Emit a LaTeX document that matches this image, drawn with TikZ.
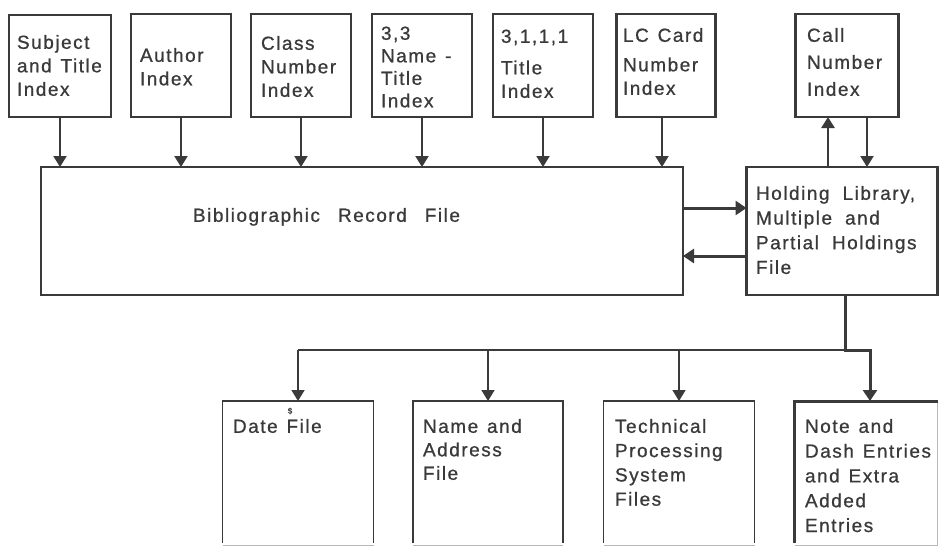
\documentclass[tikz,border=0pt]{standalone}
\usepackage{fontspec}
\setmainfont{Liberation Sans}[LetterSpace=8,WordSpace=1.3,FakeBold=0.8]
\usetikzlibrary{arrows.meta}
\definecolor{ink}{HTML}{3A3A3A}
\definecolor{faint}{HTML}{B8B8B8}
\newcommand\fstrut{\rule{0pt}{15pt}}
\newcommand\wsp{\hspace{13pt}}
\tikzset{
  box/.style={draw=ink, rectangle, inner sep=0pt, outer sep=0pt, line width=2.4pt, fill=none},
  thinbox/.style={draw=ink, line width=1.6pt},
  openbox/.style={rectangle, inner sep=0pt, outer sep=0pt, draw=none},
  lbl/.style={anchor=north west, inner sep=0pt, outer sep=0pt, align=left, text=ink,
     font=\fontsize{19}{23.5}\selectfont},
  lblb/.style={lbl, font=\fontsize{19}{24.5}\selectfont},
  tip/.style={-{Triangle[width=13pt,length=11pt,fill=ink]}},
  arr/.style={draw=ink, line width=2pt, tip},
  arrthin/.style={draw=ink, line width=1.6pt, tip},
  arrthick/.style={draw=ink, line width=3pt, -{Triangle[width=14pt,length=11pt,fill=ink]}},
  feed/.style={draw=ink, line width=1.6pt},
}
\begin{document}
\begin{tikzpicture}[x=1pt,y=-1pt]
\useasboundingbox (0,0) rectangle (943,547);
\fill[white] (0,0) rectangle (943,547);

% top index boxes
\node[box, line width=1.8pt, minimum width=102pt, minimum height=102pt] (subj) at (60,66) {};
\node[box, line width=2.8pt, minimum width=100pt, minimum height=103pt] (auth) at (181,65.5) {};
\node[box, line width=2.8pt, minimum width=100pt, minimum height=103pt] (cls) at (301,65.5) {};
\node[box, line width=2.8pt, minimum width=100pt, minimum height=103pt] (nt) at (422,65.5) {};
\node[box, line width=2.4pt, minimum width=100pt, minimum height=103pt] (ti) at (543,65.5) {};
\node[box, line width=2.4pt, minimum width=99pt, minimum height=103pt] (lc) at (666,65.5) {};
\node[box, line width=2.4pt, minimum width=103pt, minimum height=103pt] (call) at (847,65.5) {};

\node[lbl] (tsubj) at (17,33.8) {\fstrut Subject\\and Title\\Index};
\node[lbl] (tauth) at (140,46.8) {\fstrut Author\\Index};
\node[lbl] (tcls) at (261,34.8) {\fstrut Class\\Number\\Index};
\node[lbl, font=\fontsize{19}{22.5}\selectfont] (tnt) at (381,24.8) {\fstrut 3,3\\Name -\\Title\\Index};
\node[lbl] (tti) at (501,27.8) {\fstrut 3,1,1,1\\[8pt]Title\\Index};
\node[lbl] (tlc) at (623,26.8) {\fstrut LC Card\\[6pt]Number\\Index};
\node[lbl, font=\fontsize{19}{27}\selectfont] (tcall) at (807,26.8) {\fstrut Call\\Number\\Index};

% main files
\node[box, line width=2.2pt, minimum width=642pt, minimum height=128pt] (bib) at (362,231) {};
\node[lbl] (tbib) at (193,206.8) {\fstrut Bibliographic\hspace{18pt}Record\hspace{18pt}File};
\node[box, line width=2.4pt, minimum width=191pt, minimum height=128pt] (hold) at (842,231) {};
\node[lbl, font=\fontsize{19}{24.7}\selectfont] (thold) at (756,184.8) {\fstrut Holding\wsp Library,\\Multiple\wsp and\\Partial\wsp Holdings\\File};

% index arrows
\draw[arr] (subj.south) -- (subj.south |- bib.north);
\draw[arr] (auth.south) -- (auth.south |- bib.north);
\draw[arr] (cls.south) -- (cls.south |- bib.north);
\draw[arr] (nt.south) -- (nt.south |- bib.north);
\draw[arr] (ti.south) -- (ti.south |- bib.north);
\draw[arr] ([xshift=-4pt]lc.south) -- ([xshift=-4pt]lc.south |- bib.north);
\draw[arr, line width=2.6pt] ([xshift=-19pt]call.south |- hold.north) -- ([xshift=-19pt]call.south);
\draw[arr] ([xshift=20pt]call.south) -- ([xshift=20pt]call.south |- hold.north);

% bib <-> holding
\draw[arrthick] ([yshift=23pt]bib.east) -- ([yshift=23pt]hold.west);
\draw[arrthick] ([yshift=-25pt]hold.west) -- ([yshift=-25pt]bib.east);

% bottom boxes
\node[openbox, minimum width=151pt, minimum height=144pt] (date) at (298,473) {};
\node[openbox, minimum width=150pt, minimum height=144pt] (name) at (488,473) {};
\node[openbox, minimum width=151pt, minimum height=144pt] (tech) at (679,473) {};
\node[openbox, minimum width=143pt, minimum height=144pt] (note) at (866,473) {};
\foreach \b in {date,name,tech}{
  \draw[thinbox] ([yshift=2pt]\b.south west) |- (\b.north east) -- ([yshift=2pt]\b.south east);
  \draw[faint, line width=1pt] (\b.south west) -- (\b.south east);
}
\draw[draw=ink, line width=3pt] ([yshift=2pt]note.south west) |- (note.north east);
\draw[faint, line width=1pt] (note.south west) -- (note.south east) -- ([yshift=-1.5pt]note.north east);

\node[lblb] (tdate) at (233,417.8) {\fstrut Date File};
\node[inner sep=0pt, text=ink, font=\fontsize{8}{8}\selectfont] (mark) at (290,411) {\$};
\node[lblb, font=\fontsize{19}{23.5}\selectfont] (tname) at (423,417.8) {\fstrut Name and\\Address\\File};
\node[lblb, font=\fontsize{19}{24.3}\selectfont] (ttech) at (615,417.8) {\fstrut Technical\\Processing\\System\\Files};
\node[lblb, font=\fontsize{19}{24.8}\selectfont] (tnote) at (805,417.8) {\fstrut Note and\\Dash Entries\\and Extra\\Added\\Entries};

% distribution
\coordinate (hdown) at ([xshift=3pt]hold.south);
\coordinate (split) at (hdown |- 0,350);
\draw[feed] (split) -- (date.north |- split);
\draw[arrthin] (date.north |- split) -- (date.north);
\draw[arrthin] (name.north |- split) -- (name.north);
\draw[arrthin] (tech.north |- split) -- (tech.north);
\draw[draw=ink, line width=3pt] (hdown) -- (split) -| ([xshift=4pt]note.north |- 0,362);
\draw[arrthick] ([xshift=4pt]note.north |- 0,355) -- ([xshift=4pt]note.north);
\end{tikzpicture}
\end{document}
